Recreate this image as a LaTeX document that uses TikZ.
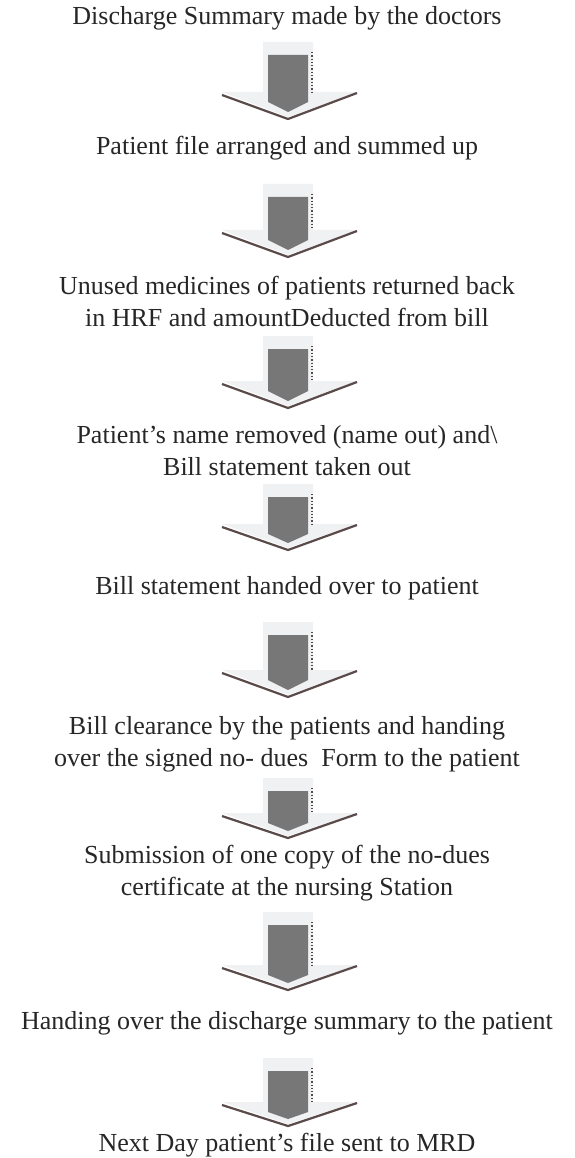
\documentclass[tikz,border=0pt]{standalone}
\usepackage{fontspec}
\setmainfont{Liberation Serif}

\definecolor{arrowpale}{HTML}{F0F1F3}
\definecolor{arrowcore}{HTML}{777777}
\definecolor{arrowshade}{HTML}{5A4B4A}

% block arrow: #1 top, #2 top of head, #3 tip
\newcommand{\flowarrow}[3]{%
    \fill[arrowpale] (263,#1) -- (313,#1) -- (313,#2) -- (357,#2) -- (288,#3-2) -- (222,#2) -- (263,#2) -- cycle;
    \draw[arrowshade, line width=2.2pt, line join=round] (222,#2+3) -- (288,#3) -- (357,#2+1);
    \fill[arrowcore] (268,#1+13) -- (308,#1+13) -- (308,#2+10) -- (288,#3-7) -- (268,#2+10) -- cycle;
    \draw[arrowshade, dotted, line width=1.3pt] (312,#1+10) -- (312,#2);
}

\tikzset{
    stage/.style={font=\fontsize{26}{32}\selectfont, align=center, text=black!85, inner sep=0pt}
}

\begin{document}
\begin{tikzpicture}[x=1pt, y=-1pt]
    \useasboundingbox (0,0) rectangle (574,1158);

    \node[stage] (summary) at (287,18) {Discharge Summary made by the doctors};
    \node[stage] (file) at (287,148) {Patient file arranged and summed up};
    \node[stage] (medicines) at (287,301) {Unused medicines of patients returned back\\in HRF and amountDeducted from bill};
    \node[stage] (nameout) at (287,451) {Patient’s name removed (name out) and\textbackslash\\Bill statement taken out};
    \node[stage] (handed) at (287,588) {Bill statement handed over to patient};
    \node[stage] (clearance) at (287,744) {Bill clearance by the patients and handing\\over the signed no- dues~ Form to the patient};
    \node[stage] (nodues) at (287,873) {Submission of one copy of the no-dues\\certificate at the nursing Station};
    \node[stage] (handing) at (287,1023) {Handing over the discharge summary to the patient};
    \node[stage] (mrd) at (287,1145) {Next Day patient’s file sent to MRD};

    \flowarrow{42}{92}{119}
    \flowarrow{184}{230}{257}
    \flowarrow{336}{381}{408}
    \flowarrow{484}{524}{550}
    \flowarrow{622}{670}{697}
    \flowarrow{778}{813}{838}
    \flowarrow{912}{965}{990}
    \flowarrow{1058}{1102}{1126}
\end{tikzpicture}
\end{document}
